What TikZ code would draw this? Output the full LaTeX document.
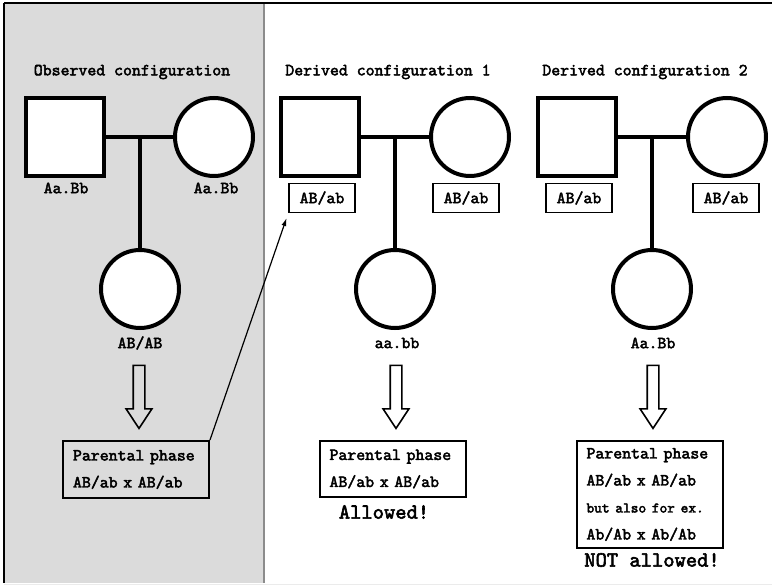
\documentclass[tikz,border=0pt]{standalone}
\usepackage{fontspec}
\newfontfamily\pedfont{lmmono10-regular}[Extension=.otf, FakeBold=2.6]
\usetikzlibrary{shapes.arrows,arrows.meta}

\begin{document}
\begin{tikzpicture}[x=1pt, y=-1pt]
\tikzstyle{every node} = [font=\pedfont\fontsize{17}{18}\selectfont]
\tikzstyle{father} = [draw, line width=4pt, fill=white, minimum size=78pt, inner sep=0pt]
\tikzstyle{mother} = [draw, circle, line width=4pt, fill=white, minimum size=78pt, inner sep=0pt]
\tikzstyle{geno} = [draw, line width=1.6pt, minimum height=29pt, minimum width=66pt]
\tikzstyle{phase} = [draw, line width=2pt, align=left, text width=126pt, inner xsep=10pt,
  font=\pedfont\fontsize{17}{27}\selectfont]
\tikzstyle{infer} = [draw, single arrow, rotate=-90, line width=1.6pt, inner sep=5pt,
  minimum height=63pt, minimum width=21pt, single arrow tip angle=67]
\tikzstyle{mating} = [line width=4pt]
\tikzstyle{verdict} = [font=\pedfont\fontsize{21.5}{22}\selectfont]

\useasboundingbox (0,0) rectangle (772,585);

% observed panel
\fill[black!14] (4,3) rectangle (264,583);
\draw[black!45, line width=1.5pt] (264,3) -- (264,583);
\draw[line width=2pt] (4,3) -- (772,3);
\draw[line width=2pt] (4,3) -- (4,583);
\draw[black!8] (4,584.5) -- (772,584.5);

\node (t1) at (132,72) {Observed configuration};
\node (t2) at (388,72) {Derived configuration 1};
\node (t3) at (645,72) {Derived configuration 2};

\node[father] (f1) at (65,137) {};
\node[mother] (m1) at (214,137) {};
\node[mother] (c1) at (140,289) {};
\node[father] (f2) at (320,137) {};
\node[mother] (m2) at (470,137) {};
\node[mother] (c2) at (395,289) {};
\node[father] (f3) at (577,137) {};
\node[mother] (m3) at (727,137) {};
\node[mother] (c3) at (652,289) {};

\foreach \i in {1,2,3} {
  \coordinate (j\i) at (c\i |- f\i);
  \draw[mating] (f\i) -- (m\i);
  \draw[mating] (j\i) -- (c\i);
}

\node (lf1) at (66,188) {Aa.Bb};
\node (lm1) at (216,188) {Aa.Bb};
\node[geno] (g1) at (322,198) {AB/ab};
\node[geno] (g2) at (466,198) {AB/ab};
\node[geno] (g3) at (579,198) {AB/ab};
\node[geno] (g4) at (726,198) {AB/ab};

\node (lc1) at (140,343) {AB/AB};
\node (lc2) at (397,343) {aa.bb};
\node (lc3) at (653,343) {Aa.Bb};

\node[infer] (i1) at (139,392.5) {};
\node[infer] (i2) at (396,392.5) {};
\node[infer] (i3) at (653,392.5) {};

\node[phase, minimum height=57pt] (ph1) at (136,469.5) {Parental phase\\AB/ab x AB/ab};
\node[phase, minimum height=56pt] (ph2) at (392.5,469) {Parental phase\\AB/ab x AB/ab};
\node[phase, minimum height=107pt] (ph3) at (649.5,494.5) {Parental phase\\AB/ab x AB/ab\\
  {\fontsize{14.7}{25}\selectfont but also for ex.}\\Ab/Ab x Ab/Ab};

\node[verdict] (v2) at (384,512) {Allowed!};
\node[verdict] (v3) at (652,560) {NOT allowed!};

\draw[-{Latex[length=8pt,width=5pt]}, line width=1.2pt, shorten >=5pt] (ph1.north east) -- (g1.south west);
\end{tikzpicture}
\end{document}
